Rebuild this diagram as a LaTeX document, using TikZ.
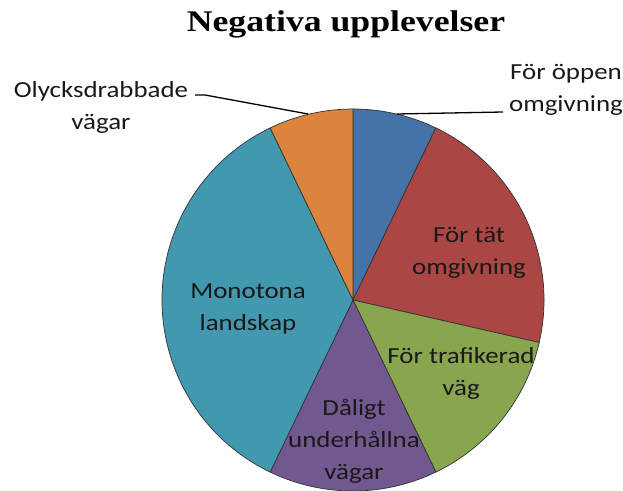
\documentclass[tikz,border=0pt]{standalone}
\usepackage{fontspec}
\setmainfont{Carlito}
\newfontfamily\lblfont[FakeStretch=1.17]{Carlito}
\newfontfamily\titlefont[FakeStretch=1.19]{Liberation Serif}
\definecolor{sblue}{HTML}{4572A7}
\definecolor{sred}{HTML}{AA4643}
\definecolor{sgreen}{HTML}{89A54E}
\definecolor{spurple}{HTML}{71588F}
\definecolor{steal}{HTML}{4198AF}
\definecolor{sorange}{HTML}{DB843D}
\tikzset{
  slice/.style={draw=black!80, line width=0.7pt, line join=round},
  lbl/.style={align=center, anchor=base, inner sep=0pt, font=\lblfont\fontsize{23}{32}\selectfont, text=black!90},
  leader/.style={draw=black, line width=1.3pt}
}
\begin{document}
\begin{tikzpicture}[x=1pt,y=1pt]
\useasboundingbox (0,0) rectangle (623,490);
\coordinate (C) at (353,190);
\def\R{191}
\def\pieslice#1#2#3{\filldraw[slice, fill=#1] (C) -- ++(#2:\R) arc[start angle=#2, end angle=#3, radius=\R] -- cycle;}
\pieslice{sblue}{90}{64.2857}
\pieslice{sred}{64.2857}{-12.857}
\pieslice{sgreen}{-12.857}{-64.2857}
\pieslice{spurple}{-64.2857}{-115.714}
\pieslice{steal}{-115.714}{-244.286}
\pieslice{sorange}{-244.286}{-270}

\node[anchor=base, inner sep=0pt, font=\titlefont\bfseries\fontsize{30}{36}\selectfont] (title) at (346,458) {Negativa upplevelser};

\node[lbl] (olyck) at (101,360) {Olycksdrabbade\\vägar};
\node[lbl] (oppen) at (566,378) {För öppen\\omgivning};
\node[lbl] (tat) at (469,215) {För tät\\omgivning};
\node[lbl] (mono) at (248,160) {Monotona\\landskap};
\node[lbl] (traf) at (461,95) {För trafikerad\\väg};
\node[lbl] (dal) at (354,11) {Dåligt\\underhållna\\vägar};

\coordinate (la) at (195,395);
\coordinate (lb) at (205,395);
\coordinate (lc) at (308,376);
\coordinate (ra) at (397,376);
\coordinate (rb) at (503,378);
\draw[leader] (la) -- (lb) -- (lc);
\draw[leader] (ra) -- (rb);
\end{tikzpicture}
\end{document}
